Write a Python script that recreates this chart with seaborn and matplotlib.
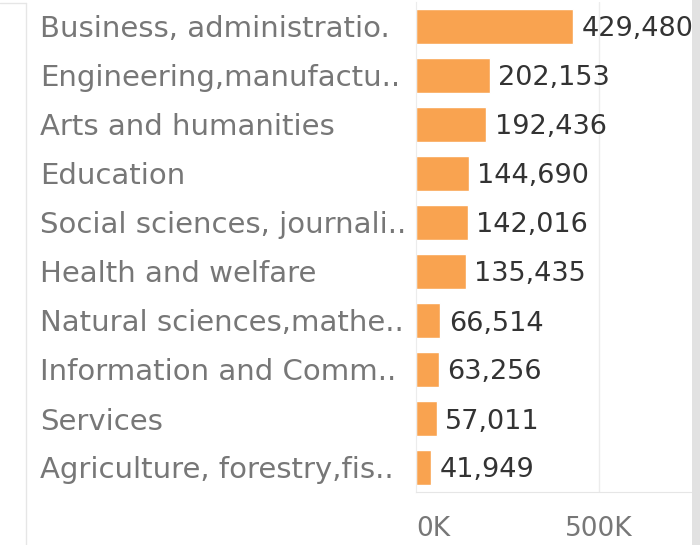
import matplotlib
matplotlib.use('Agg')
import matplotlib.pyplot as plt
import seaborn as sns
import pandas as pd
from matplotlib.lines import Line2D
from matplotlib.patches import Rectangle

# chart data
fields = ['Business, administratio.', 'Engineering,manufactu..', 'Arts and humanities',
          'Education', 'Social sciences, journali..', 'Health and welfare',
          'Natural sciences,mathe..', 'Information and Comm..', 'Services',
          'Agriculture, forestry,fis..']
students = [429480, 202153, 192436, 144690, 142016, 135435, 66514, 63256, 57011, 41949]
xticks = [0, 500000]
xtick_labels = ['0K', '500K']

df = pd.DataFrame({'field': fields, 'students': students})

sns.set_style('white')
plt.rcParams['font.family'] = ['DejaVu Sans']

W, H = 700, 545
fig = plt.figure(figsize=(W / 100, H / 100), dpi=100)
ax = fig.add_axes([416 / W, (H - 492) / H, (692 - 416) / W, (492 - 2) / H])

sns.barplot(data=df, x='students', y='field', color='#f9a350', width=0.72,
            saturation=1, ax=ax, orient='h')

ax.set_xlim(0, 754000)
ax.set_ylim(len(fields) - 0.5, -0.5)
ax.set_xlabel('')
ax.set_ylabel('')

# gridline at 500K
ax.axvline(500000, color='#ececec', lw=1, zorder=0)

for s in ['top', 'right']:
    ax.spines[s].set_visible(False)
ax.spines['left'].set_color('#ececec')
ax.spines['bottom'].set_color('#e6e6e6')

ax.set_xticks(xticks)
ax.set_xticklabels(xtick_labels, fontsize=19, color='#777777')
ax.get_xticklabels()[0].set_horizontalalignment('left')
ax.tick_params(axis='x', length=9, color='#e6e6e6', pad=8)

ax.tick_params(axis='y', length=0, pad=376 * 0.72)
for t in ax.get_yticklabels():
    t.set_horizontalalignment('left')
    t.set_verticalalignment('center_baseline')
    t.set_fontsize(21)
    t.set_color('#777777')

labels = ax.bar_label(ax.containers[0], labels=[f'{v:,}' for v in students],
                      padding=6, fontsize=19.5, color='#333333')
for t in labels:
    t.set_clip_on(True)
    t.set_verticalalignment('center_baseline')

# border lines and right strip
fig.add_artist(Line2D([26 / W, 26 / W], [0, (H - 3) / H], color='#e6e6e6', lw=1))
fig.add_artist(Line2D([0, 26 / W], [(H - 3) / H, (H - 3) / H], color='#e6e6e6', lw=1))
fig.add_artist(Rectangle((692 / W, 0), 8 / W, 1, transform=fig.transFigure,
                         color='#e2e2e2', lw=0))

fig.savefig('out.png', dpi=100)
